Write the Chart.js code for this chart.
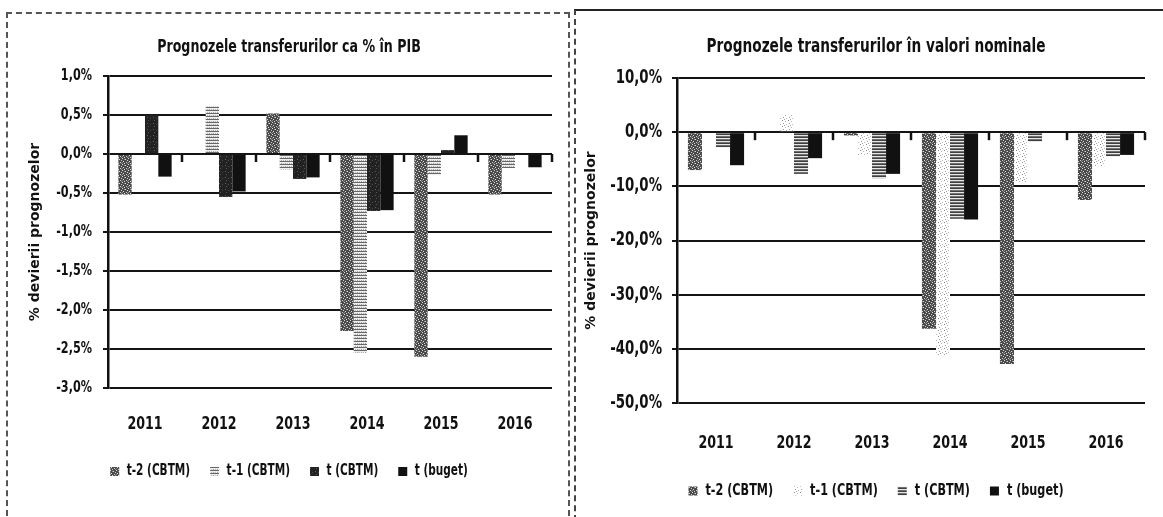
<!DOCTYPE html>
<html>
<head>
<meta charset="utf-8">
<script src="https://cdn.jsdelivr.net/npm/chart.js@4.4.1/dist/chart.umd.min.js"></script>
<style>
  html, body { margin: 0; padding: 0; background: #fff; overflow: hidden; }
  body { width: 1163px; height: 517px; position: relative; }
  .panel { position: absolute; }
  #panelLeft { left: 6px; top: 12px; width: 560px; height: 520px; border: 2px dashed #555; }
  #panelRight { left: 574px; top: 9px; width: 620px; height: 520px; border-top: 2px solid #222; border-left: 2px dashed #444; }
  canvas { position: absolute; }
  #pibChart { left: 8px; top: 14px; }
  #nomChart { left: 578px; top: 12px; }
</style>
</head>
<body>
<div class="panel" id="panelLeft"></div>
<div class="panel" id="panelRight"></div>
<canvas id="pibChart" width="558" height="475"></canvas>
<canvas id="nomChart" width="598" height="497"></canvas>
<script>
const years = ["2011", "2012", "2013", "2014", "2015", "2016"];
const seriesNames = ["t-2 (CBTM)", "t-1 (CBTM)", "t (CBTM)", "t (buget)"];

// deviation of forecasts, % of GDP
const pibT2 = [-0.52, 0, 0.52, -2.27, -2.6, -0.52];
const pibT1 = [0, 0.61, -0.2, -2.55, -0.27, -0.18];
const pibT = [0.5, -0.55, -0.32, -0.73, 0.05, 0];
const pibBuget = [-0.29, -0.48, -0.3, -0.72, 0.24, -0.17];

// deviation of forecasts, nominal values (%)
const nomT2 = [-7.0, 0, -0.6, -36.3, -42.8, -12.5];
const nomT1 = [0, 3.2, -4.2, -41.1, -9.3, -6.3];
const nomT = [-2.8, -7.7, -8.5, -16.0, -1.8, -4.5];
const nomBuget = [-6.1, -4.8, -7.7, -16.1, 0, -4.2];

const pibTicks = { min: -3, max: 1, step: 0.5 };
const nomTicks = { min: -50, max: 10, step: 10 };

const NARROW = "'DejaVu Sans Condensed', 'DejaVu Sans', sans-serif";
const SQUEEZE = 0.78;

Chart.defaults.animation = false;
Chart.defaults.color = "#111";

// the printed charts use a tall, narrow bold face; squeeze the condensed text horizontally
function squeezeText(canvas, k) {
  const ctx = canvas.getContext("2d");
  const fill = ctx.fillText.bind(ctx);
  const measure = ctx.measureText.bind(ctx);
  const narrow = () => ctx.font.indexOf("Condensed") >= 0;
  ctx.fillText = (text, x, y, maxWidth) => {
    if (!narrow()) {
      if (maxWidth === undefined) fill(text, x, y); else fill(text, x, y, maxWidth);
      return;
    }
    ctx.save();
    ctx.translate(x, y);
    ctx.scale(k, 1);
    if (maxWidth === undefined) fill(text, 0, 0); else fill(text, 0, 0, maxWidth / k);
    ctx.restore();
  };
  ctx.measureText = text => {
    const m = measure(text);
    if (!narrow()) return m;
    return {
      width: m.width * k,
      actualBoundingBoxAscent: m.actualBoundingBoxAscent,
      actualBoundingBoxDescent: m.actualBoundingBoxDescent,
      actualBoundingBoxLeft: m.actualBoundingBoxLeft * k,
      actualBoundingBoxRight: m.actualBoundingBoxRight * k
    };
  };
}

// small tiles to look like the printed fills
function makePattern(base, dots, w, h) {
  const c = document.createElement("canvas");
  c.width = w; c.height = h;
  const g = c.getContext("2d");
  g.fillStyle = base;
  g.fillRect(0, 0, w, h);
  dots.forEach(d => { g.fillStyle = d[2]; g.fillRect(d[0], d[1], d[3] || 1, d[4] || 1); });
  return g.createPattern(c, "repeat");
}

const stippleDark = makePattern("#4a4a4a", [
  [0, 0, "#dcdcdc"], [3, 1, "#dcdcdc"], [5, 2, "#cfcfcf"], [1, 3, "#dcdcdc"], [4, 4, "#cfcfcf"], [2, 5, "#dcdcdc"],
  [2, 1, "#8c8c8c"], [5, 5, "#8c8c8c"], [0, 4, "#8c8c8c"]], 6, 6);
const hatchLight = makePattern("#eeeeee", [[0, 0, "#666666", 4, 1], [1, 2, "#a0a0a0"], [3, 2, "#bbbbbb"]], 4, 3);
const denseDark = makePattern("#222222", [[1, 1, "#5f5f5f"], [4, 2, "#4a4a4a"], [2, 4, "#555555"]], 6, 6);
const stippleLight = makePattern("#ffffff", [
  [0, 0, "#8a8a8a"], [3, 1, "#b5b5b5"], [1, 3, "#9a9a9a"], [4, 4, "#bcbcbc"], [2, 5, "#a5a5a5"]], 6, 6);
const gridHatch = makePattern("#707070", [[0, 0, "#e6e6e6", 3, 1], [0, 2, "#404040", 3, 1]], 3, 3);
const black = "#111";

const zeroTicks = {
  id: "zeroTicks",
  afterDatasetsDraw(chart) {
    const { ctx, chartArea, scales } = chart;
    const y0 = scales.y.getPixelForValue(0);
    const n = chart.data.labels.length;
    const w = chartArea.width / n;
    ctx.save();
    ctx.strokeStyle = "#111";
    ctx.lineWidth = 2.5;
    for (let k = 1; k <= n; k++) {
      const x = chartArea.left + k * w;
      ctx.beginPath();
      ctx.moveTo(x, y0);
      ctx.lineTo(x, y0 + 8);
      ctx.stroke();
    }
    ctx.restore();
  }
};

function pct(v) {
  return v.toFixed(1).replace(".", ",") + "%";
}

function makeChart(id, title, data, fills, t, lay) {
  const canvas = document.getElementById(id);
  squeezeText(canvas, SQUEEZE);
  const datasets = data.map((vals, i) => ({
    label: seriesNames[i],
    data: vals,
    backgroundColor: fills[i],
    borderWidth: 0,
    categoryPercentage: 0.72,
    barPercentage: 1.0
  }));
  return new Chart(canvas, {
    type: "bar",
    data: { labels: years, datasets: datasets },
    plugins: [zeroTicks],
    options: {
      responsive: false,
      devicePixelRatio: 1,
      layout: { padding: { left: lay.padLeft, right: lay.padRight, top: 0, bottom: 0 } },
      plugins: {
        title: {
          display: true,
          text: title,
          font: { family: NARROW, size: lay.titleFont, weight: "bold" },
          color: "#111",
          padding: { top: lay.titleTop, bottom: lay.titleBottom }
        },
        legend: {
          position: "bottom",
          labels: {
            boxWidth: 9,
            boxHeight: 9,
            padding: 20,
            color: "#111",
            font: { family: NARROW, size: lay.legendFont, weight: "bold" }
          }
        },
        tooltip: { enabled: false }
      },
      scales: {
        x: {
          grid: { display: false, drawTicks: false },
          border: { display: false },
          ticks: {
            padding: lay.xPad,
            color: "#111",
            font: { family: NARROW, size: 18, weight: "bold" }
          },
          afterFit: s => { s.height = lay.xHeight; }
        },
        y: {
          min: t.min,
          max: t.max,
          grid: { color: "#151515", lineWidth: 2, tickLength: 5, tickColor: "#151515" },
          border: { display: true, color: "#111", width: 2.5 },
          ticks: {
            stepSize: t.step,
            padding: lay.yPad,
            color: "#111",
            font: { family: NARROW, size: lay.yFont, weight: "bold" },
            callback: v => pct(v)
          },
          title: {
            display: true,
            text: "% devierii prognozelor",
            color: "#111",
            font: { family: "'DejaVu Sans', sans-serif", size: 14, weight: "bold" },
            padding: { top: lay.yTitlePad, bottom: 0 }
          },
          afterFit: s => { s.width = lay.yWidth; }
        }
      }
    }
  });
}

makeChart("pibChart", "Prognozele transferurilor ca % în PIB",
  [pibT2, pibT1, pibT, pibBuget],
  [stippleDark, hatchLight, denseDark, black],
  pibTicks,
  { padLeft: 18, padRight: 14, titleFont: 18, titleTop: 22.2, titleBottom: 18.2, xPad: 25.2, xHeight: 56,
    legendFont: 15, yWidth: 82, yPad: 11, yFont: 16, yTitlePad: 0.6 });

makeChart("nomChart", "Prognozele transferurilor în valori nominale",
  [nomT2, nomT1, nomT, nomBuget],
  [stippleDark, stippleLight, gridHatch, black],
  nomTicks,
  { padLeft: 29, padRight: 31, titleFont: 19.5, titleTop: 23.3, titleBottom: 19.3, xPad: 29.2, xHeight: 60,
    legendFont: 16, yWidth: 70, yPad: 10, yFont: 19, yTitlePad: -24.4 });
</script>
</body>
</html>
